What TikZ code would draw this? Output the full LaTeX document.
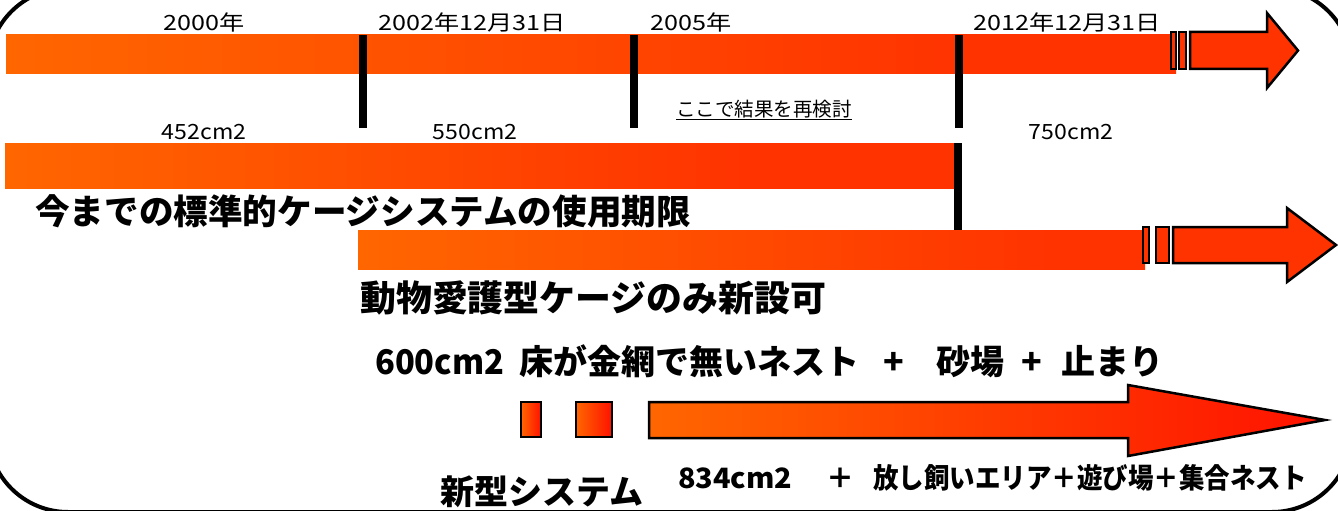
\documentclass[tikz,border=0pt]{standalone}
\usepackage{fontspec}
\setmainfont{Noto Sans CJK JP}
\usepackage{graphicx}
\definecolor{orA}{RGB}{255,102,0}
\definecolor{rdA}{RGB}{255,51,0}
\definecolor{rdB}{RGB}{255,18,0}
\pgfdeclarehorizontalshading{barone}{100bp}{color(0bp)=(orA); color(25bp)=(orA); color(65.8bp)=(rdA); color(100bp)=(rdA)}
\pgfdeclarehorizontalshading{bartwo}{100bp}{color(0bp)=(orA); color(25bp)=(orA); color(64bp)=(rdA); color(100bp)=(rdA)}
\pgfdeclarehorizontalshading{barthree}{100bp}{color(0bp)=(orA); color(25bp)=(orA); color(69bp)=(rdA); color(100bp)=(rdA)}
\begin{document}
\begin{tikzpicture}[x=1pt,y=-1pt,
  vbar/.style={line width=8pt},
  brk/.style={fill=rdA,draw=black,line width=2pt},
  arr/.style={fill=rdA,draw=black,line width=2.5pt,line join=miter},
  yr/.style={inner sep=0pt,font=\fontsize{21}{21}\selectfont},
  big/.style={inner sep=0pt,anchor=west,font=\bfseries\fontsize{34}{34}\selectfont}]
\useasboundingbox (0,0) rectangle (1338,511);
\fill[white] (0,0) rectangle (1338,511);
\draw[line width=4pt,rounded corners=80pt] (-12,-12) rectangle (1352,512);
% row 1
\shade[shading=barone] (6,35) rectangle (1176,73);
\draw[brk] (1171,32) rectangle (1176,69);
\draw[brk] (1179,32) rectangle (1186,69);
\draw[arr] (1190,32) -- (1267,32) -- (1267,13) -- (1298,50.5) -- (1267,88) -- (1267,69) -- (1190,69) -- cycle;
\draw[vbar] (363,35) -- (363,128);
\draw[vbar] (634,35) -- (634,128);
\draw[vbar] (959,35) -- (959,128);
\node[yr] (l2000) at (204,22) {\scalebox{1.2}[1]{2000年}};
\node[yr] (l2002) at (472,22) {\scalebox{1.2}[1]{2002年12月31日}};
\node[yr] (l2005) at (691,22) {\scalebox{1.2}[1]{2005年}};
\node[yr] (l2012) at (1067,22) {\scalebox{1.2}[1]{2012年12月31日}};
\node[inner sep=0pt,font=\fontsize{19.5}{19.5}\selectfont] (review) at (764,110) {\underline{ここで結果を再検討}};
\node[yr] (a452) at (204,132) {\scalebox{1.1}[1]{452cm2}};
\node[yr] (a550) at (475,132) {\scalebox{1.1}[1]{550cm2}};
\node[yr] (a750) at (1071,132) {\scalebox{1.1}[1]{750cm2}};
% row 2
\shade[shading=bartwo] (5,143) rectangle (955,188);
\draw[vbar] (958,143) -- (958,230);
\node[big,font=\bfseries\fontsize{34.6}{34.6}\selectfont] (t1) at (35,211) {今までの標準的ケージシステムの使用期限};
% row 3
\shade[shading=barthree] (358,230) rectangle (1145,269);
\draw[brk] (1143,227) rectangle (1149,263);
\draw[brk] (1156,227) rectangle (1169,263);
\draw[arr] (1173,227) -- (1287,227) -- (1287,208) -- (1336,245) -- (1287,282) -- (1287,263) -- (1173,263) -- cycle;
\node[big,font=\bfseries\fontsize{35.9}{35.9}\selectfont] (t2) at (360,298) {動物愛護型ケージのみ新設可};
% row 4
\node[big,font=\bfseries\fontsize{34}{34}\selectfont] (t3) at (375,361) {\scalebox{0.96}[1]{600cm2}\hspace{15pt}床が金網で無いネスト\hspace{24pt}+\hspace{32pt}砂場\hspace{17pt}+\hspace{20pt}止まり};
\shadedraw[left color=orA,right color=rdB,draw=black,line width=2pt] (521,402) rectangle (541,437);
\shadedraw[left color=orA,right color=rdB,draw=black,line width=2pt] (576,402) rectangle (612,437);
\shadedraw[left color=orA,right color=rdB,draw=black,line width=2.5pt,line join=miter] (649,402) -- (1128,402) -- (1128,385) -- (1325,420) -- (1128,456) -- (1128,438) -- (649,438) -- cycle;
\node[big,font=\bfseries\fontsize{34}{34}\selectfont] (t4) at (440,492) {新型システム};
\node[big,font=\bfseries\fontsize{28}{28}\selectfont] (t5) at (678,478) {\scalebox{1.03}[1]{834cm2}\hspace{34pt}＋\hspace{19pt}\scalebox{0.91}[1]{放し飼いエリア＋遊び場＋集合ネスト}};
\end{tikzpicture}
\end{document}
